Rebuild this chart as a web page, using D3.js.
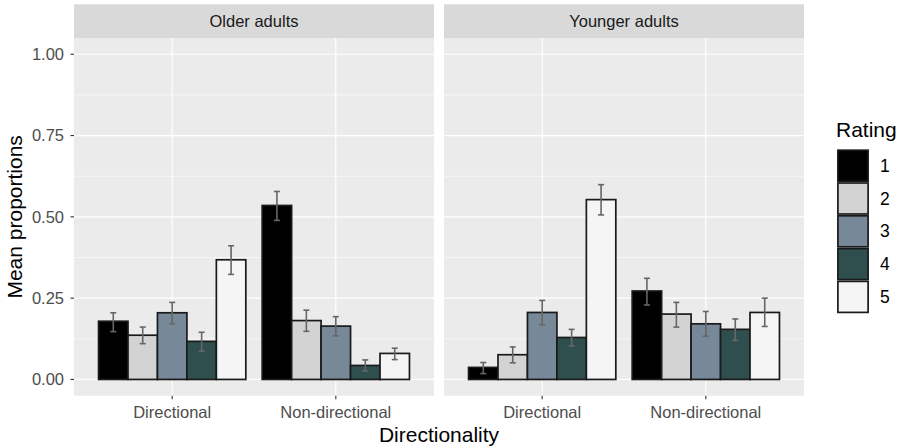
<!DOCTYPE html>
<html><head><meta charset="utf-8">
<script src="https://cdn.jsdelivr.net/npm/d3@7"></script>
<style>body{margin:0;background:#fff}svg{display:block;font-family:"Liberation Sans",Arial,sans-serif}</style>
</head><body><svg id="c" width="904" height="448"></svg>
<script>
const panels = ["Older adults", "Younger adults"];
const categories = ["Directional", "Non-directional"];
const ratings = ["1", "2", "3", "4", "5"];
const colors = ["#000000", "#d3d3d3", "#778899", "#2f4f4f", "#f5f5f5"];
const yTicks = [0, 0.25, 0.5, 0.75, 1.0];
// mean proportions [panel][category][rating]
const means = [
  [[0.179, 0.136, 0.205, 0.117, 0.368], [0.535, 0.181, 0.164, 0.043, 0.080]],
  [[0.037, 0.076, 0.206, 0.129, 0.553], [0.272, 0.201, 0.171, 0.154, 0.206]]
];
const lower = [
  [[0.147, 0.110, 0.171, 0.087, 0.323], [0.489, 0.148, 0.134, 0.026, 0.061]],
  [[0.018, 0.051, 0.168, 0.103, 0.506], [0.229, 0.161, 0.133, 0.120, 0.163]]
];
const upper = [
  [[0.205, 0.161, 0.237, 0.145, 0.411], [0.578, 0.213, 0.193, 0.060, 0.096]],
  [[0.052, 0.100, 0.243, 0.154, 0.599], [0.311, 0.237, 0.209, 0.186, 0.250]]
];

(function () {
const svg = d3.select("#c");
const panelX = [74, 444], panelW = 360, pTop = 38, pBottom = 395.7, stripH = 33.7;
const tickFont = 16.5, titleFont = 21;
const y = d3.scaleLinear().domain([-0.05, 1.05]).range([pBottom, pTop]);
// ggplot discrete: positions at 0.6/2.2 and 1.6/2.2 of panel width
const xc = d3.scalePoint().domain(categories).range([panelW*0.6/2.2, panelW*1.6/2.2]);
const groupW = panelW*0.9/2.2;
const xs = d3.scaleBand().domain(ratings).range([-groupW/2, groupW/2]);

panels.forEach((p, pi) => {
  const g = svg.append("g").attr("transform", `translate(${panelX[pi]},0)`);
  g.append("rect").attr("x", 0).attr("y", pTop - stripH).attr("width", panelW).attr("height", stripH).attr("fill", "#d9d9d9");
  g.append("text").attr("x", panelW/2).attr("y", pTop - stripH/2).attr("dy", "0.35em").attr("text-anchor", "middle")
    .attr("font-size", tickFont).attr("fill", "#1a1a1a").text(p);
  g.append("rect").attr("x", 0).attr("y", pTop).attr("width", panelW).attr("height", pBottom - pTop).attr("fill", "#ebebeb");
  const minor = d3.range(0, 4).map(i => 0.125 + i*0.25);
  g.selectAll(".mn").data(minor).join("line").attr("class", "mn").attr("x1", 0).attr("x2", panelW)
    .attr("y1", d => y(d)).attr("y2", d => y(d)).attr("stroke", "#fff").attr("stroke-width", 0.6);
  g.selectAll(".mj").data(yTicks).join("line").attr("class", "mj").attr("x1", 0).attr("x2", panelW)
    .attr("y1", d => y(d)).attr("y2", d => y(d)).attr("stroke", "#fff").attr("stroke-width", 1.2);
  g.selectAll(".vx").data(categories).join("line").attr("class", "vx").attr("x1", d => xc(d)).attr("x2", d => xc(d))
    .attr("y1", pTop).attr("y2", pBottom).attr("stroke", "#fff").attr("stroke-width", 1.2);
  categories.forEach((c, ci) => {
    const cg = g.append("g").attr("transform", `translate(${xc(c)},0)`);
    const d = ratings.map((r, ri) => ({r, ri, m: means[pi][ci][ri], lo: lower[pi][ci][ri], hi: upper[pi][ci][ri]}));
    cg.selectAll("rect").data(d).join("rect")
      .attr("x", e => xs(e.r)).attr("width", xs.bandwidth())
      .attr("y", e => y(e.m)).attr("height", e => y(0) - y(e.m))
      .attr("fill", e => colors[e.ri]).attr("stroke", "#1a1a1a").attr("stroke-width", 1.7);
    const eb = cg.selectAll(".eb").data(d).join("g").attr("class", "eb")
      .attr("transform", e => `translate(${xs(e.r) + xs.bandwidth()/2},0)`)
      .attr("stroke", "#666666").attr("stroke-width", 1.6);
    eb.append("line").attr("x1", 0).attr("x2", 0).attr("y1", e => y(e.lo)).attr("y2", e => y(e.hi));
    eb.append("line").attr("x1", -3).attr("x2", 3).attr("y1", e => y(e.lo)).attr("y2", e => y(e.lo));
    eb.append("line").attr("x1", -3).attr("x2", 3).attr("y1", e => y(e.hi)).attr("y2", e => y(e.hi));
  });
  g.selectAll(".xt").data(categories).join("line").attr("class", "xt").attr("x1", d => xc(d)).attr("x2", d => xc(d))
    .attr("y1", pBottom).attr("y2", pBottom + 3.5).attr("stroke", "#333").attr("stroke-width", 1.1);
  g.selectAll(".xl").data(categories).join("text").attr("class", "xl").attr("x", d => xc(d)).attr("y", 418)
    .attr("text-anchor", "middle").attr("font-size", tickFont).attr("fill", "#4d4d4d").text(d => d);
});

const ya = svg.append("g");
ya.selectAll("line").data(yTicks).join("line").attr("x1", 70.5).attr("x2", 74)
  .attr("y1", d => y(d)).attr("y2", d => y(d)).attr("stroke", "#333").attr("stroke-width", 1.1);
ya.selectAll("text").data(yTicks).join("text").attr("x", 64).attr("y", d => y(d)).attr("dy", "0.35em")
  .attr("text-anchor", "end").attr("font-size", tickFont).attr("fill", "#4d4d4d").text(d => d3.format(".2f")(d));

svg.append("text").attr("transform", `translate(22,${(pTop + pBottom)/2}) rotate(-90)`).attr("text-anchor", "middle")
  .attr("font-size", titleFont).attr("fill", "#000").text("Mean proportions");
svg.append("text").attr("x", (74 + 804)/2).attr("y", 442).attr("text-anchor", "middle")
  .attr("font-size", titleFont).attr("fill", "#000").text("Directionality");

const lg = svg.append("g").attr("transform", "translate(837,0)");
lg.append("text").attr("x", -1).attr("y", 137).attr("font-size", titleFont).attr("fill", "#000").text("Rating");
const key = 32.8;
const ly = d3.scaleBand().domain(ratings).range([149.3, 149.3 + key*5]);
lg.selectAll("rect").data(ratings).join("rect").attr("x", 0.9).attr("y", d => ly(d) + 0.9)
  .attr("width", 30.2).attr("height", key - 1.8).attr("fill", (d, i) => colors[i])
  .attr("stroke", "#1a1a1a").attr("stroke-width", 1.7);
lg.selectAll(".lt").data(ratings).join("text").attr("class", "lt").attr("x", 43).attr("y", d => ly(d) + key/2).attr("dy", "0.35em")
  .attr("font-size", 17.5).attr("fill", "#000").text(d => d);
})();
</script></body></html>
